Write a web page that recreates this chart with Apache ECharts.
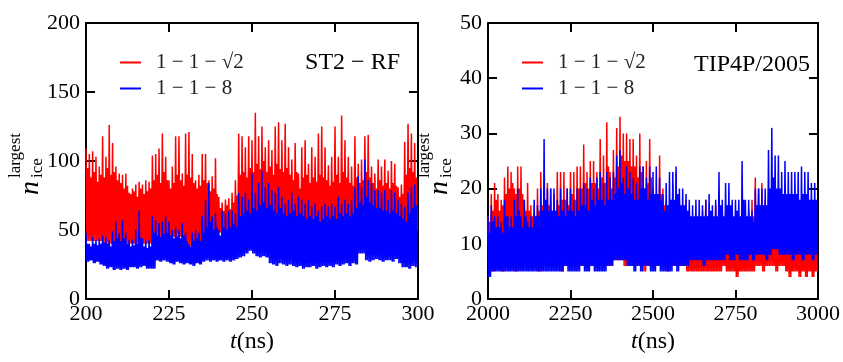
<!DOCTYPE html>
<html>
<head>
<meta charset="utf-8">
<script src="https://cdn.jsdelivr.net/npm/echarts@6/dist/echarts.min.js"></script>
<style>html,body{margin:0;padding:0;background:#fff;}#c{width:843px;height:362px;}</style>
</head>
<body>
<div id="c"></div>
<script>
// ---------------- data ----------------
const RED_NAME = '1 − 1 − √2';
const BLUE_NAME = '1 − 1 − 8';

// Left panel (ST2 − RF), t = 200 … 299 ns, one sample group per ns
const redPeakL = [109,105,107,103,96,118,103,126,113,96,
  91,90,91,77,80,83,85,83,86,85,
  104,105,109,120,103,86,96,118,118,91,
  120,121,105,86,90,105,105,86,89,102,
  74,70,72,73,77,86,120,118,110,118,
  115,135,118,125,110,115,108,125,128,115,
  127,110,101,113,91,110,115,98,110,103,
  120,125,110,97,103,125,103,133,115,103,
  96,118,98,101,118,119,96,91,101,96,
  101,93,100,98,81,83,114,127,120,113];
const redBodyL = [95,88,92,85,90,88,95,90,92,86,
  84,80,82,76,78,74,80,76,78,80,
  86,90,84,92,86,80,84,90,86,82,
  90,88,84,80,82,86,84,78,80,76,
  66,64,68,65,70,75,90,92,88,95,
  92,98,94,100,92,96,90,98,94,92,
  95,90,86,92,80,88,90,84,88,85,
  90,88,86,82,85,90,84,92,88,84,
  82,88,84,86,92,88,84,80,86,82,
  84,80,84,82,74,76,90,95,92,88];
// per 5 ns
const redLowL  = [42,40,40,40,45,45,38,42,48,50,55,55,55,55,55,55,55,55,50,50];

const bluePeakL = [48,40,45,43,44,46,45,43,49,56,
  48,57,48,43,43,50,64,44,43,43,
  60,57,55,56,60,56,50,52,50,55,
  48,40,48,50,48,60,72,84,60,62,
  50,64,62,64,64,62,77,74,77,72,
  91,77,84,93,81,84,79,77,81,74,
  69,72,77,69,74,72,69,72,67,69,
  64,67,69,67,69,67,74,69,72,69,
  72,81,89,81,101,86,84,79,79,77,
  79,72,79,77,72,69,67,77,81,83];
const blueBodyL = [40,38,40,39,40,41,40,38,42,44,
  42,44,40,38,39,40,44,38,37,38,
  48,46,45,47,48,46,44,45,44,46,
  42,38,42,44,42,48,52,56,50,52,
  46,52,50,52,54,52,60,62,64,62,
  66,64,68,70,66,68,64,62,66,62,
  60,62,64,60,62,60,58,60,58,60,
  56,58,60,58,60,58,62,60,62,60,
  62,66,70,68,74,70,68,66,66,64,
  64,62,64,62,60,58,56,62,66,68];
const blueLowL = [27,28,26,27,25,24,22,23,21,22,
  21,22,21,23,23,22,23,24,22,22,
  22,28,27,28,27,26,25,27,26,25,
  26,25,24,26,25,27,28,27,28,27,
  28,27,28,27,28,29,30,31,33,35,
  33,31,30,31,30,26,25,24,26,25,
  24,25,24,23,24,22,23,23,24,22,
  23,24,23,24,23,25,24,25,26,24,
  26,25,33,33,28,27,28,29,28,27,
  28,28,27,29,26,23,23,22,24,23];

// Right panel (TIP4P/2005), t = 2000 … 2990 ns, one sample group per 10 ns
const redPeakR = [15,19,21,19,18,22,24,23,20,24,
  24,18,21,17,17,20,23,20,21,20,
  19,23,23,23,20,23,23,24,24,28,
  23,25,25,23,29,26,32,23,27,31,
  33,30,30,29,29,26,30,24,25,29,
  20,18,26,20,18,17,21,23,18,16,
  18,16,15,15,15,16,18,15,14,17,
  18,15,16,15,16,14,14,14,15,16,
  18,22,20,21,18,20,21,18,17,17,
  16,17,16,17,16,17,16,17,16,16];
const redBodyR = [14,16,18,16,17,19,20,21,19,20,
  19,16,16,15,15,16,17,16,17,16,
  16,17,18,18,17,19,18,20,20,21,
  20,21,21,20,22,21,24,20,22,24,
  26,25,25,24,24,22,23,20,21,22,
  17,16,19,17,16,15,17,18,16,14,
  15,14,13,13,13,14,15,13,12,14,
  14,13,14,13,14,12,12,12,13,14,
  15,17,16,17,15,16,17,15,14,14,
  14,14,13,14,13,14,13,14,13,13];
const redLowR = [6,5,6,6,5,6,6,6,5,6,
  6,6,6,6,6,5,6,6,6,6,
  6,6,5,6,6,6,6,6,6,6,
  6,6,6,6,6,6,6,6,7,7,
  7,6,6,6,6,6,6,5,6,6,
  6,6,6,6,5,6,6,6,6,6,
  5,5,5,5,5,5,5,5,5,5,
  5,6,5,5,5,4,5,5,5,5,
  5,6,6,5,6,6,6,5,6,6,
  5,4,5,5,4,5,4,5,4,5];

const bluePeakR = [15,17,15,15,14,18,15,15,18,20,
  15,18,14,15,18,17,20,29,20,20,
  20,18,20,18,20,20,18,20,20,21,
  20,22,20,22,23,21,23,22,23,26,
  27,22,24,23,22,21,24,24,22,24,
  23,24,22,19,21,23,23,24,20,20,
  19,18,17,18,18,17,18,19,17,18,
  23,18,21,21,18,18,18,25,18,18,
  16,20,20,20,20,27,31,26,26,23,
  25,23,23,23,23,24,23,23,21,21];
const blueBodyR = [12,14,13,13,12,15,13,13,15,16,
  13,15,13,13,15,15,16,18,16,16,
  16,15,16,15,16,16,15,16,17,17,
  16,18,17,18,18,17,18,18,19,20,
  21,19,20,19,18,18,20,20,18,19,
  19,19,18,16,17,18,18,19,17,17,
  16,15,15,15,15,15,15,16,15,15,
  17,15,17,17,15,16,15,18,15,15,
  14,17,17,17,17,20,22,20,20,19,
  19,19,19,19,18,19,19,18,18,18];
const blueLowR = [4,5,5,5,5,5,5,5,5,5,
  5,5,5,5,5,5,5,5,5,5,
  5,5,5,6,5,5,5,5,6,5,
  5,6,5,5,5,5,6,6,7,7,
  7,7,6,6,5,6,5,6,6,5,
  5,6,5,5,5,5,6,5,6,6,
  6,7,7,7,7,6,7,7,7,7,
  7,7,8,7,7,8,7,7,7,8,
  7,8,8,8,7,8,9,9,8,8,
  8,8,7,8,8,7,8,8,7,8];

const xTicksL = {min: 200, max: 300, interval: 25};
const xTicksR = {min: 2000, max: 3000, interval: 250};
const yTicksL = {min: 0, max: 200, interval: 50};
const yTicksR = {min: 0, max: 50, interval: 10};

// ---------------- build ----------------
function pick(arr, i, n) { return arr[Math.floor(i * arr.length / n)]; }
function build(t0, dt, peak, body, low) {
  const out = [];
  const n = peak.length;
  for (let i = 0; i < n; i++) {
    const b = pick(body, i, n);
    const l = pick(low, i, n);
    const t = t0 + i * dt;
    out.push([t, peak[i]], [t + dt / 4, l], [t + dt / 2, b], [t + 3 * dt / 4, l]);
  }
  return out;
}

const FONT = '"Liberation Serif", "DejaVu Serif", serif';
const BLACK = '#000';

function xAxis(grid, ticks, top) {
  return {
    gridIndex: grid, type: 'value', min: ticks.min, max: ticks.max, interval: ticks.interval,
    position: top ? 'top' : 'bottom',
    axisLine: {show: true, onZero: false, lineStyle: {color: BLACK, width: 2}},
    axisTick: {show: true, inside: true, length: 9, lineStyle: {color: BLACK, width: 2}},
    axisLabel: {show: !top, fontSize: 22, fontFamily: FONT, color: BLACK, margin: 4,
      formatter: function (v) { return String(v); }},
    splitLine: {show: false},
    name: top ? '' : '{i|t}(ns)',
    nameLocation: 'middle', nameGap: 27,
    nameTextStyle: {fontSize: 24, fontFamily: FONT, color: BLACK,
      rich: {i: {fontSize: 24, fontFamily: FONT, fontStyle: 'italic', color: BLACK}}}
  };
}
function yAxis(grid, ticks, right) {
  return {
    gridIndex: grid, type: 'value', min: ticks.min, max: ticks.max, interval: ticks.interval,
    position: right ? 'right' : 'left',
    axisLine: {show: true, onZero: false, lineStyle: {color: BLACK, width: 2}},
    axisTick: {show: true, inside: true, length: 9, lineStyle: {color: BLACK, width: 2}},
    axisLabel: {show: !right, fontSize: 22, fontFamily: FONT, color: BLACK, margin: 6,
      formatter: function (v) { return String(v); }},
    splitLine: {show: false}
  };
}
function line(name, color, xi, yi, data) {
  return {
    name: name, type: 'line', xAxisIndex: xi, yAxisIndex: yi, data: data,
    symbol: 'none', showSymbol: false, silent: true, animation: false,
    lineStyle: {color: color, width: 1.5, join: 'bevel'}, itemStyle: {color: color},
    clip: true
  };
}
function label(x, y, text, size, italic) {
  const f = (italic ? 'italic ' : '') + size + 'px ' + FONT;
  return {
    type: 'text', x: x, y: y, rotation: Math.PI / 2, silent: true,
    style: {text: text, font: f, fill: BLACK, align: 'left', verticalAlign: 'middle',
      textAlign: 'left', textVerticalAlign: 'middle'}
  };
}
function note(x, y, text) {
  return {
    type: 'text', x: x, y: y, silent: true,
    style: {text: text, font: '24px ' + FONT, fill: BLACK, align: 'right', verticalAlign: 'middle',
      textAlign: 'right', textVerticalAlign: 'middle'}
  };
}
function legend(left) {
  return {
    orient: 'vertical', left: left, top: 52, padding: 0, itemWidth: 21, itemHeight: 2, itemGap: 5,
    icon: 'rect', selectedMode: false,
    textStyle: {fontSize: 21, fontFamily: FONT, color: '#222', padding: [0, 0, 0, 10]},
    data: [RED_NAME, BLUE_NAME]
  };
}

const option = {
  animation: false,
  backgroundColor: '#fff',
  grid: [
    {left: 86, top: 23, width: 332, height: 276},
    {left: 488, top: 23, width: 333, height: 276}
  ],
  xAxis: [xAxis(0, xTicksL, false), xAxis(0, xTicksL, true), xAxis(1, xTicksR, false), xAxis(1, xTicksR, true)],
  yAxis: [yAxis(0, yTicksL, false), yAxis(0, yTicksL, true), yAxis(1, yTicksR, false), yAxis(1, yTicksR, true)],
  legend: [legend(120), legend(522)],
  series: [
    line(RED_NAME, '#ff0000', 0, 0, build(200, 1, redPeakL, redBodyL, redLowL)),
    line(BLUE_NAME, '#0000ff', 0, 0, build(200, 1, bluePeakL, blueBodyL, blueLowL)),
    line(RED_NAME, '#ff0000', 2, 2, build(2000, 10, redPeakR, redBodyR, redLowR)),
    line(BLUE_NAME, '#0000ff', 2, 2, build(2000, 10, bluePeakR, blueBodyR, blueLowR))
  ],
  graphic: [
    label(31, 195, 'n', 28, true),
    label(38, 178, 'ice', 17, false),
    label(16, 178, 'largest', 17, false),
    label(440, 195, 'n', 28, true),
    label(447, 178, 'ice', 17, false),
    label(425, 178, 'largest', 17, false),
    note(400, 63, 'ST2 − RF'),
    note(810, 65, 'TIP4P/2005')
  ]
};

const chart = echarts.init(document.getElementById('c'), null, {renderer: 'canvas'});
chart.setOption(option);
</script>
</body>
</html>
